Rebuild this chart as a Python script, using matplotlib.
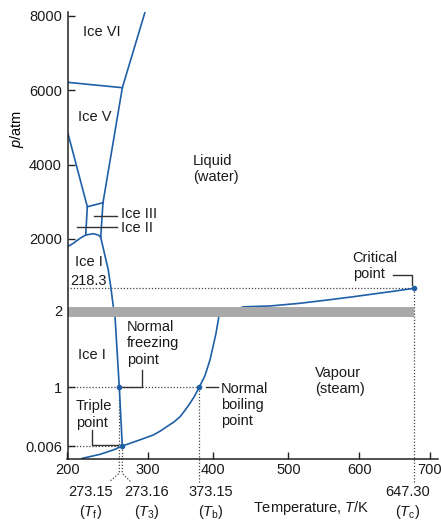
import numpy as np
import matplotlib
matplotlib.use('Agg')
import matplotlib.pyplot as plt

plt.rcParams['font.family'] = ['Liberation Sans', 'DejaVu Sans']
plt.rcParams['mathtext.fontset'] = 'custom'
plt.rcParams['mathtext.rm'] = 'Liberation Sans'
plt.rcParams['mathtext.it'] = 'Liberation Sans:italic'

# phase boundaries of water, T in K and p in atm
ice6_liq_T = [273.2, 297.1]
ice6_liq_p = [6062, 8091]
ice5_ice6_T = [200, 273.2]
ice5_ice6_p = [6207, 6062]
ice5_liq_T = [273.2, 250.1]
ice5_liq_p = [6062, 2971]
ice5_ice3_T = [228.0, 250.1]
ice5_ice3_p = [2863, 2971]
ice2_ice5_T = [200, 228.0]
ice2_ice5_p = [4881, 2863]
ice3_liq_T = [250.1, 246.9]
ice3_liq_p = [2971, 2040]
ice2_ice3_T = [228.0, 225.7]
ice2_ice3_p = [2863, 2102]
ice1_ice2_T = [200, 208.2, 217.7, 225.7]
ice1_ice2_p = [1716, 1838, 2013, 2102]
ice1_ice3_T = [225.7, 236.4, 243.5, 246.9]
ice1_ice3_p = [2102, 2137, 2102, 2040]
ice1_liq_T = [246.9, 257.6, 261.4, 264.7, 267.1, 273.15, 273.16]
ice1_liq_p = [2040, 877, 218.3, 43, 1.925, 1, 0.006]
liq_vap_T = [273.16, 290, 308, 318, 327, 337, 345.9, 353, 360.1, 366, 373.15,
             384, 393.7, 403.6, 407.6,
             440, 476, 515.6, 553, 591.5, 629.4, 647.3]
liq_vap_p = [0.006, 0.1, 0.192, 0.26, 0.333, 0.41, 0.502, 0.61, 0.729, 0.84, 1,
             1.15, 1.358, 1.707, 1.938,
             42, 50, 75, 105, 138, 190, 218.3]
sub_T = [220, 245.9, 264.7, 273.16]
sub_p = [0, 0.002, 0.0041, 0.006]

# marked points
T_f, T_3, T_b, T_c = 273.15, 273.16, 373.15, 647.30
p_f, p_3, p_b, p_c = 1, 0.006, 1, 218.3

x_ticks = [200, 300, 400, 500, 600, 700]
y_ticks = [0.006, 1, 2, 2000, 4000, 6000, 8000]
y_tick_labels = ['0.006', '1', '2', '2000', '4000', '6000', '8000']

# the diagram is schematic: both axes are stretched piecewise
T_KNOTS = [200, 273.15, 273.16, 300, 373.15, 400, 500, 600, 647.3, 700, 710]
T_POS = [67.5, 119.3, 122.3, 147.7, 199.2, 213.3, 288.3, 359.3, 414, 430, 437.5]
P_KNOTS = [0, 0.006, 1, 2, 218.3, 2000, 4000, 6000, 8000, 8200]
P_POS = [-458.5, -446, -387.3, -311, -288.3, -238.8, -164.5, -90, -15.7, -8.3]

def fwd_x(t):
    return np.interp(t, T_KNOTS, T_POS)

def inv_x(v):
    return np.interp(v, T_POS, T_KNOTS)

def fwd_y(p):
    return np.interp(p, P_KNOTS, P_POS)

def inv_y(v):
    return np.interp(v, P_POS, P_KNOTS)

blue = '#1f5fa6'
dark = '#222222'
fs = 10.5

fig = plt.figure(figsize=(4.41, 5.21), dpi=100)
ax = fig.add_axes([67.5 / 441, 62.5 / 521, 370 / 441, 446.5 / 521])
ax.set_xscale('function', functions=(fwd_x, inv_x))
ax.set_yscale('function', functions=(fwd_y, inv_y))
ax.set_xlim(200, 710)
ax.set_ylim(0, 8100)

# phase lines
for T, p in [(ice6_liq_T, ice6_liq_p), (ice5_ice6_T, ice5_ice6_p), (ice5_liq_T, ice5_liq_p),
             (ice5_ice3_T, ice5_ice3_p), (ice2_ice5_T, ice2_ice5_p), (ice3_liq_T, ice3_liq_p),
             (ice2_ice3_T, ice2_ice3_p), (ice1_ice2_T, ice1_ice2_p), (ice1_ice3_T, ice1_ice3_p),
             (ice1_liq_T, ice1_liq_p), (liq_vap_T, liq_vap_p), (sub_T, sub_p)]:
    ax.plot(T, p, color=blue, lw=1.2, zorder=1.5, solid_capstyle='round',
            solid_joinstyle='round')

ax.plot([T_f, T_3, T_b, T_c], [p_f, p_3, p_b, p_c], 'o', color=blue, ms=3, zorder=4)

# axis break
ax.fill_between([200, T_c], 1.925, 43, color='#a9a9a9', lw=0, zorder=2)

# dotted guide lines
dot = dict(color='#444444', lw=0.9, ls=(0, (1, 1.5)), zorder=1)
ax.plot([200, T_c], [p_c, p_c], **dot)
ax.plot([200, T_b], [1, 1], **dot)
ax.plot([200, T_3], [p_3, p_3], **dot)
ax.plot([T_f, T_f], [p_f, 0], **dot)
ax.plot([T_3, T_3], [p_3, 0], **dot)
ax.plot([T_b, T_b], [p_b, 0], **dot)
ax.plot([T_c, T_c], [p_c, 0], **dot)
xt = ax.get_xaxis_transform()
ax.plot([T_f, T_f, 259.0], [0, -0.033, -0.052], transform=xt, clip_on=False, **dot)
ax.plot([T_3, T_3, 282.0], [0, -0.033, -0.052], transform=xt, clip_on=False, **dot)
ax.plot([T_b, T_b], [0, -0.055], transform=xt, clip_on=False, **dot)
ax.plot([T_c, T_c], [0, -0.055], transform=xt, clip_on=False, **dot)

# leaders
lead = dict(color='#333333', lw=1.0, zorder=3)
ax.plot([T_f, 293.7, 293.7], [1, 1, 1.227], **lead)
ax.plot([234.2, 234.2, 271.7], [0.277, 0.031, 0.031], **lead)
ax.plot([387.0, 406.9], [1, 1], **lead)
ax.plot([629.4, 645.3, 645.3], [697, 697, 337], **lead)
ax.plot([237.2, 269.5], [2613, 2613], **lead)
ax.plot([213.8, 269.5], [2325, 2325], **lead)

# region labels
txt = dict(fontsize=fs, ha='left', va='center', color='#1a1a1a')
ax.text(221.9, 7562, 'Ice VI', **txt)
ax.text(214.8, 5275, 'Ice V', **txt)
ax.text(364.3, 3879, 'Liquid\n(water)', **txt)
ax.annotate('Ice III', (269.5, 2613), xytext=(3, 1.5), textcoords='offset points', **txt)
ax.annotate('Ice II', (269.5, 2325), xytext=(3, -1), textcoords='offset points', **txt)
ax.text(210.6, 1165, 'Ice I', **txt)
ax.text(203.5, 481, '218.3', **txt)
ax.text(214.8, 1.423, 'Ice I', **txt)
ax.text(278.1, 1.576, 'Normal\nfreezing\npoint', **txt)
ax.text(212, 0.539, 'Triple\npoint', **txt)
ax.text(409.9, 0.70, 'Normal\nboiling\npoint', **txt)
ax.text(537.6, 1.085, 'Vapour\n(steam)', **txt)
ax.text(590.7, 1021, 'Critical\npoint', **txt)

# temperature labels under the axis
bot = dict(fontsize=fs, ha='center', va='center', transform=xt, color='#1a1a1a')
for T, val, sym in [(232.9, '273.15', 'f'), (299.3, '273.16', '3'),
                    (395.2, '373.15', 'b'), (641.7, '647.30', 'c')]:
    ax.text(T, -0.0757, val, **bot)
    ax.text(T, -0.1205, r'($T_\mathrm{%s}$)' % sym, **bot)
ax.text(531.7, -0.1109, r'Temperature, $T$/K', **bot)

ax.set_ylabel(r'$p$/atm', fontsize=fs)
ax.yaxis.set_label_coords(-0.112, 0.738)

ax.set_xticks(x_ticks)
ax.set_xticklabels([str(t) for t in x_ticks])
ax.set_yticks(y_ticks)
ax.set_yticklabels(y_tick_labels)
ax.minorticks_off()
ax.yaxis.get_major_ticks()[2].tick1line.set_visible(False)
ax.tick_params(direction='in', length=5, width=1, color=dark, labelsize=fs, labelcolor='#1a1a1a')
ax.tick_params(axis='x', pad=3)
ax.tick_params(axis='y', pad=4)

for s in ['top', 'right']:
    ax.spines[s].set_visible(False)
for s in ['left', 'bottom']:
    ax.spines[s].set_linewidth(1.1)
    ax.spines[s].set_color(dark)

plt.savefig('out.png', dpi=100)
